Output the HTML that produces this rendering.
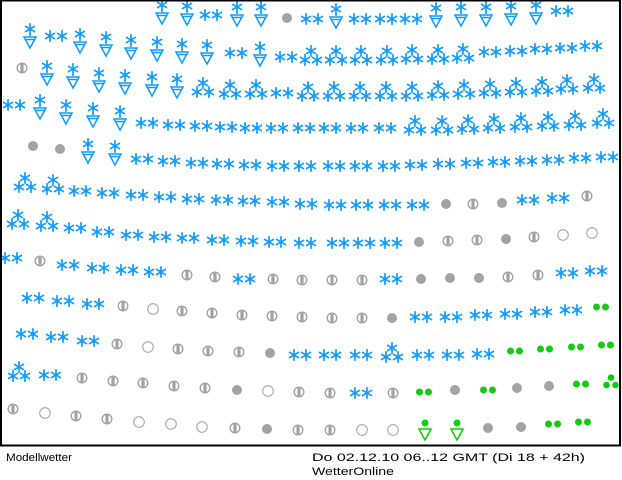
<!DOCTYPE html>
<html><head><meta charset="utf-8"><style>
html,body{margin:0;padding:0;background:#fff;}
svg{display:block;}
</style></head><body>
<svg width="622" height="480" viewBox="0 0 622 480" xmlns="http://www.w3.org/2000/svg">
<defs>
<g id="f" stroke="#0f9bff" stroke-width="1.7" stroke-linecap="square"><line x1="0" y1="-5" x2="0" y2="5"/><line x1="-4.3" y1="-2.5" x2="4.3" y2="2.5"/><line x1="-4.3" y1="2.5" x2="4.3" y2="-2.5"/></g>
<g id="d"><use href="#f" x="-6" y="0"/><use href="#f" x="6" y="0"/></g>
<g id="t"><use href="#f" x="0" y="-5"/><use href="#f" x="-6" y="4"/><use href="#f" x="6" y="4"/></g>
<g id="s"><use href="#f" x="0" y="-8"/><line x1="0" y1="-3" x2="0" y2="-1" stroke="#0f9bff" stroke-width="1.5"/><path d="M-6,0 L6,0 L0,11 Z M-5,2.5 L5,2.5" fill="none" stroke="#0f9bff" stroke-width="1.5"/></g>
<g id="o"><circle r="5" fill="#a3a3a3"/></g>
<g id="h"><circle r="4.8" fill="#fff" stroke="#a3a3a3" stroke-width="1.4"/><rect x="-1.6" y="-4.5" width="3.2" height="9" fill="#a3a3a3"/></g>
<g id="c"><circle r="5.3" fill="none" stroke="#a8a8a8" stroke-width="1.1"/></g>
<g id="g" fill="#11cc11"><circle cx="-4.5" r="3.5"/><circle cx="4.5" r="3.5"/></g>
<g id="gt" fill="#11cc11"><circle cx="0" cy="-4.5" r="3.3"/><circle cx="-4.5" cy="3" r="3.3"/><circle cx="4.5" cy="3" r="3.3"/></g>
<g id="gs"><circle cx="0" cy="-7" r="3.5" fill="#11cc11"/><path d="M-6,-1 L6,-1 L0,10 Z" fill="none" stroke="#11cc11" stroke-width="1.6"/></g>
</defs>
<!-- Row A -->
<use href="#s" x="162" y="13"/><use href="#s" x="187" y="14"/><use href="#d" x="211" y="15"/><use href="#s" x="237" y="15"/><use href="#s" x="261" y="15"/><use href="#o" x="287" y="18"/><use href="#d" x="312" y="19"/><use href="#s" x="336" y="17"/><use href="#d" x="360" y="19"/><use href="#d" x="386" y="19"/><use href="#d" x="411" y="19"/><use href="#s" x="436" y="16"/><use href="#s" x="461" y="15"/><use href="#s" x="486" y="15"/><use href="#s" x="511" y="14"/><use href="#s" x="536" y="13"/><use href="#d" x="562" y="11"/>
<!-- Row B -->
<use href="#s" x="30" y="37"/><use href="#d" x="56" y="36"/><use href="#s" x="80" y="42"/><use href="#s" x="106" y="45"/><use href="#s" x="131" y="48"/><use href="#s" x="157" y="50"/><use href="#s" x="182" y="52"/><use href="#s" x="207" y="53"/><use href="#d" x="236" y="53"/><use href="#s" x="260" y="55"/><use href="#d" x="286" y="57"/><use href="#t" x="311" y="56"/><use href="#t" x="336" y="56"/><use href="#t" x="361" y="56"/><use href="#t" x="387" y="56"/><use href="#t" x="412" y="55"/><use href="#t" x="438" y="55"/><use href="#t" x="463" y="54"/><use href="#d" x="490" y="52"/><use href="#d" x="516" y="51"/><use href="#d" x="541" y="49"/><use href="#d" x="566" y="48"/><use href="#d" x="591" y="46"/>
<!-- Row C -->
<use href="#h" x="22" y="68"/><use href="#s" x="47" y="74"/><use href="#s" x="73" y="77"/><use href="#s" x="99" y="81"/><use href="#s" x="125" y="83"/><use href="#s" x="152" y="85"/><use href="#s" x="177" y="87"/><use href="#t" x="203" y="88"/><use href="#t" x="230" y="90"/><use href="#t" x="256" y="90"/><use href="#d" x="282" y="93"/><use href="#t" x="308" y="92"/><use href="#t" x="334" y="92"/><use href="#t" x="360" y="92"/><use href="#t" x="386" y="92"/><use href="#t" x="412" y="92"/><use href="#t" x="438" y="91"/><use href="#t" x="464" y="90"/><use href="#t" x="490" y="89"/><use href="#t" x="516" y="88"/><use href="#t" x="542" y="87"/><use href="#t" x="567" y="85"/><use href="#t" x="594" y="84"/>
<!-- Row D -->
<use href="#d" x="14" y="105"/><use href="#s" x="40" y="108"/><use href="#s" x="66" y="113"/><use href="#s" x="93" y="116"/><use href="#s" x="120" y="119"/><use href="#d" x="147" y="123"/><use href="#d" x="174" y="125"/><use href="#d" x="201" y="126"/><use href="#d" x="226" y="127"/><use href="#d" x="251" y="128"/><use href="#d" x="277" y="128"/><use href="#d" x="304" y="128"/><use href="#d" x="330" y="128"/><use href="#d" x="357" y="128"/><use href="#d" x="385" y="128"/><use href="#t" x="415" y="126"/><use href="#t" x="442" y="126"/><use href="#t" x="468" y="125"/><use href="#t" x="494" y="124"/><use href="#t" x="521" y="123"/><use href="#t" x="548" y="122"/><use href="#t" x="575" y="121"/><use href="#t" x="603" y="119"/>
<!-- Row E -->
<use href="#o" x="33" y="146"/><use href="#o" x="60" y="149"/><use href="#s" x="88" y="152"/><use href="#s" x="115" y="154"/><use href="#d" x="142" y="159"/><use href="#d" x="169" y="161"/><use href="#d" x="197" y="163"/><use href="#d" x="223" y="164"/><use href="#d" x="250" y="165"/><use href="#d" x="278" y="166"/><use href="#d" x="305" y="166"/><use href="#d" x="334" y="166"/><use href="#d" x="361" y="166"/><use href="#d" x="389" y="166"/><use href="#d" x="416" y="165"/><use href="#d" x="444" y="164"/><use href="#d" x="472" y="163"/><use href="#d" x="499" y="162"/><use href="#d" x="526" y="161"/><use href="#d" x="553" y="160"/><use href="#d" x="580" y="158"/><use href="#d" x="607" y="157"/>
<!-- Row F -->
<use href="#t" x="25" y="183"/><use href="#t" x="53" y="185"/><use href="#d" x="80" y="191"/><use href="#d" x="108" y="193"/><use href="#d" x="137" y="195"/><use href="#d" x="165" y="197"/><use href="#d" x="193" y="199"/><use href="#d" x="222" y="200"/><use href="#d" x="249" y="201"/><use href="#d" x="278" y="202"/><use href="#d" x="306" y="204"/><use href="#d" x="335" y="205"/><use href="#d" x="362" y="205"/><use href="#d" x="390" y="205"/><use href="#d" x="418" y="205"/><use href="#o" x="446" y="204"/><use href="#h" x="473" y="204"/><use href="#o" x="502" y="203"/><use href="#d" x="528" y="200"/><use href="#d" x="558" y="198"/><use href="#h" x="587" y="196"/>
<!-- Row G -->
<use href="#t" x="18" y="220"/><use href="#t" x="47" y="222"/><use href="#d" x="75" y="228"/><use href="#d" x="103" y="232"/><use href="#d" x="132" y="235"/><use href="#d" x="160" y="237"/><use href="#d" x="188" y="238"/><use href="#d" x="218" y="240"/><use href="#d" x="247" y="241"/><use href="#d" x="275" y="242"/><use href="#d" x="305" y="243"/><use href="#d" x="338" y="243"/><use href="#d" x="364" y="243"/><use href="#d" x="391" y="243"/><use href="#o" x="419" y="242"/><use href="#h" x="448" y="241"/><use href="#h" x="477" y="240"/><use href="#o" x="506" y="239"/><use href="#h" x="534" y="237"/><use href="#c" x="563" y="235"/><use href="#c" x="592" y="233"/>
<!-- Row H -->
<use href="#d" x="11" y="258"/><use href="#h" x="40" y="261"/><use href="#d" x="68" y="265"/><use href="#d" x="98" y="268"/><use href="#d" x="127" y="270"/><use href="#d" x="155" y="272"/><use href="#h" x="187" y="275"/><use href="#h" x="215" y="277"/><use href="#d" x="244" y="279"/><use href="#h" x="273" y="279"/><use href="#h" x="302" y="280"/><use href="#h" x="332" y="280"/><use href="#h" x="362" y="280"/><use href="#d" x="391" y="279"/><use href="#o" x="421" y="279"/><use href="#o" x="450" y="278"/><use href="#o" x="479" y="278"/><use href="#h" x="508" y="277"/><use href="#h" x="538" y="275"/><use href="#d" x="567" y="273"/><use href="#d" x="596" y="271"/>
<!-- Row I -->
<use href="#d" x="33" y="298"/><use href="#d" x="63" y="301"/><use href="#d" x="93" y="304"/><use href="#h" x="123" y="306"/><use href="#c" x="153" y="309"/><use href="#h" x="182" y="311"/><use href="#h" x="212" y="313"/><use href="#h" x="242" y="315"/><use href="#h" x="272" y="316"/><use href="#h" x="302" y="317"/><use href="#h" x="332" y="318"/><use href="#h" x="362" y="318"/><use href="#o" x="392" y="318"/><use href="#d" x="421" y="317"/><use href="#d" x="451" y="317"/><use href="#d" x="481" y="315"/><use href="#d" x="511" y="314"/><use href="#d" x="541" y="312"/><use href="#d" x="571" y="310"/><use href="#g" x="601" y="307"/>
<!-- Row J -->
<use href="#d" x="27" y="334"/><use href="#d" x="57" y="337"/><use href="#d" x="88" y="341"/><use href="#h" x="117" y="344"/><use href="#c" x="148" y="347"/><use href="#h" x="178" y="349"/><use href="#h" x="208" y="351"/><use href="#h" x="239" y="352"/><use href="#o" x="270" y="353"/><use href="#d" x="300" y="355"/><use href="#d" x="330" y="355"/><use href="#d" x="361" y="355"/><use href="#t" x="392" y="353"/><use href="#d" x="423" y="355"/><use href="#d" x="453" y="355"/><use href="#d" x="483" y="354"/><use href="#g" x="515" y="351"/><use href="#g" x="545" y="349"/><use href="#g" x="576" y="347"/><use href="#g" x="606" y="345"/>
<!-- Row K -->
<use href="#t" x="19" y="372"/><use href="#d" x="50" y="375"/><use href="#h" x="82" y="378"/><use href="#h" x="113" y="381"/><use href="#h" x="143" y="383"/><use href="#h" x="174" y="386"/><use href="#h" x="205" y="388"/><use href="#o" x="237" y="390"/><use href="#c" x="268" y="391"/><use href="#h" x="299" y="392"/><use href="#h" x="330" y="393"/><use href="#d" x="361" y="393"/><use href="#h" x="393" y="393"/><use href="#g" x="424" y="392"/><use href="#o" x="455" y="390"/><use href="#g" x="488" y="390"/><use href="#o" x="517" y="388"/><use href="#o" x="549" y="386"/><use href="#g" x="581" y="384"/><use href="#gt" x="611" y="382"/>
<!-- Row L -->
<use href="#h" x="13" y="409"/><use href="#c" x="45" y="413"/><use href="#h" x="76" y="416"/><use href="#h" x="107" y="419"/><use href="#c" x="139" y="422"/><use href="#c" x="171" y="424"/><use href="#c" x="202" y="427"/><use href="#h" x="235" y="428"/><use href="#o" x="267" y="429"/><use href="#h" x="298" y="430"/><use href="#h" x="330" y="430"/><use href="#c" x="362" y="430"/><use href="#c" x="393" y="430"/><use href="#gs" x="425" y="430"/><use href="#gs" x="457" y="430"/><use href="#o" x="488" y="428"/><use href="#o" x="521" y="427"/><use href="#g" x="553" y="424"/><use href="#g" x="583" y="422"/>
<!-- frame -->
<rect x="1" y="0.5" width="619" height="445" fill="none" stroke="#000" stroke-width="2"/>
<g font-family="Liberation Sans, sans-serif" font-size="11" fill="#000">
<text x="6" y="461" textLength="66" lengthAdjust="spacingAndGlyphs">Modellwetter</text>
<text x="312" y="461" textLength="273" lengthAdjust="spacingAndGlyphs">Do 02.12.10 06..12 GMT (Di 18 + 42h)</text>
<text x="312" y="475" textLength="82" lengthAdjust="spacingAndGlyphs">WetterOnline</text>
</g>
</svg>
</body></html>
